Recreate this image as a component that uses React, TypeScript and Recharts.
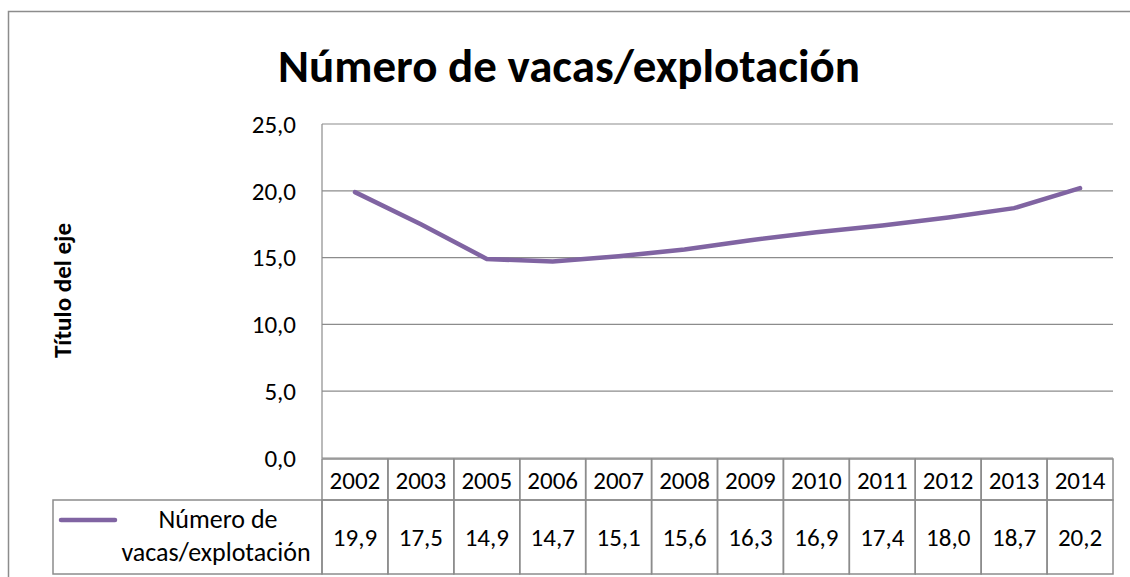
import { LineChart, Line, XAxis, YAxis, CartesianGrid } from "recharts"

const years = ["2002", "2003", "2005", "2006", "2007", "2008", "2009", "2010", "2011", "2012", "2013", "2014"]
const cowsPerFarm = [19.9, 17.5, 14.9, 14.7, 15.1, 15.6, 16.3, 16.9, 17.4, 18.0, 18.7, 20.2]
const yTicks = [0, 5, 10, 15, 20, 25]
const seriesName = ["Número de", "vacas/explotación"]
const chartTitle = "Número de vacas/explotación"
const axisTitle = "Título del eje"

const data = years.map((year, i) => ({ year, value: cowsPerFarm[i] }))

const W = 1130
const H = 577
const PLOT_LEFT = 322
const PLOT_RIGHT = 1113
const PLOT_TOP = 124
const PLOT_BOTTOM = 459
const ROW1_BOTTOM = 500
const ROW2_BOTTOM = 574
const LEGEND_LEFT = 53
const COL_W = (PLOT_RIGHT - PLOT_LEFT) / years.length

const FONT = "Carlito, Lato, 'Open Sans', sans-serif"
const GRID = "#8c8c8c"
const PURPLE = "#8064A2"

const fmt = (v: number) => v.toFixed(1).replace(".", ",")

function TableTick(props: any) {
  const { x, index, payload } = props
  const left = x - COL_W / 2
  return (
    <g>
      <rect x={left} y={PLOT_BOTTOM} width={COL_W} height={ROW1_BOTTOM - PLOT_BOTTOM} fill="none" stroke={GRID} strokeWidth={1.5} />
      <rect x={left} y={ROW1_BOTTOM} width={COL_W} height={ROW2_BOTTOM - ROW1_BOTTOM} fill="none" stroke={GRID} strokeWidth={1.5} />
      <text x={x} y={(PLOT_BOTTOM + ROW1_BOTTOM) / 2 + 1} textAnchor="middle" dominantBaseline="central" fontFamily={FONT} fontSize={25} fill="#000">
        {payload.value}
      </text>
      <text x={x} y={(ROW1_BOTTOM + ROW2_BOTTOM) / 2} textAnchor="middle" dominantBaseline="central" fontFamily={FONT} fontSize={25} fill="#000">
        {fmt(cowsPerFarm[index])}
      </text>
    </g>
  )
}

export default function App() {
  return (
    <div style={{ position: "fixed", left: 0, top: 0, width: W, height: H, background: "#fff", overflow: "hidden" }}>
      <LineChart
        width={W}
        height={H}
        data={data}
        margin={{ top: PLOT_TOP, right: W - PLOT_RIGHT, bottom: H - PLOT_BOTTOM, left: PLOT_LEFT - 80 }}
      >
        <CartesianGrid vertical={false} stroke={GRID} strokeWidth={1.2} />
        <XAxis
          dataKey="year"
          scale="band"
          height={1}
          axisLine={false}
          tickLine={false}
          interval={0}
          tick={<TableTick />}
        />
        <YAxis
          width={80}
          domain={[0, 25]}
          ticks={yTicks}
          tickFormatter={fmt}
          axisLine={{ stroke: GRID, strokeWidth: 1.2 }}
          tickLine={false}
          tickSize={0}
          tickMargin={26}
          tick={{ fontFamily: FONT, fontSize: 25, fill: "#000" }}
        />
        <Line
          dataKey="value"
          stroke={PURPLE}
          strokeWidth={4.5}
          dot={false}
          isAnimationActive={false}
          strokeLinecap="round"
        />
      </LineChart>
      <svg width={W} height={H} style={{ position: "absolute", left: 0, top: 0, pointerEvents: "none" }}>
        <rect x={8.5} y={11.5} width={1300} height={900} fill="none" stroke={GRID} strokeWidth={1.5} />
        <text x={569} y={82} textAnchor="middle" fontFamily={FONT} fontSize={47} fontWeight="bold" fill="#000">
          {chartTitle}
        </text>
        <text
          x={0}
          y={0}
          transform={`translate(71, ${(PLOT_TOP + PLOT_BOTTOM) / 2 - 1}) rotate(-90)`}
          textAnchor="middle"
          fontFamily={FONT}
          fontSize={25}
          fontWeight="bold"
          fill="#000"
        >
          {axisTitle}
        </text>
        <rect x={LEGEND_LEFT} y={ROW1_BOTTOM} width={PLOT_LEFT - LEGEND_LEFT} height={ROW2_BOTTOM - ROW1_BOTTOM} fill="none" stroke={GRID} strokeWidth={1.5} />
        <line x1={61} y1={520} x2={115} y2={520} stroke={PURPLE} strokeWidth={4.5} strokeLinecap="round" />
        <text x={218} y={528} textAnchor="middle" fontFamily={FONT} fontSize={26} fill="#000">
          {seriesName[0]}
        </text>
        <text x={216} y={561} textAnchor="middle" fontFamily={FONT} fontSize={26} fill="#000">
          {seriesName[1]}
        </text>
      </svg>
    </div>
  )
}
